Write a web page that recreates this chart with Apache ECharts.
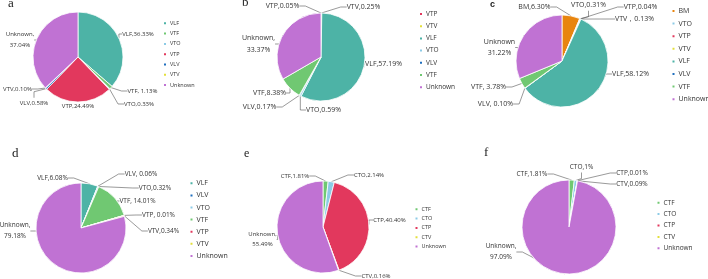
<!DOCTYPE html>
<html>
<head>
<meta charset="utf-8">
<script src="https://cdn.jsdelivr.net/npm/echarts@6/dist/echarts.min.js"></script>
<style>
  html, body { margin: 0; padding: 0; background: #fff; }
  #chart { width: 708px; height: 279px; }
</style>
</head>
<body>
<div id="chart"></div>
<script>
// 数据：六个饼图 a-f
const namesA = ['VLF', 'VTF', 'VTO', 'VTP', 'VLV', 'VTV', 'Unknown'];
const valuesA = [36.33, 1.13, 0.33, 24.49, 0.58, 0.10, 37.04];
const labelsA = ['VLF,36.33%', 'VTF, 1.13%', 'VTO,0.33%', 'VTP,24.49%', 'VLV,0.58%', 'VTV,0.10%', 'Unknown,\n37.04%'];

const namesB = ['VTP', 'VTV', 'VLF', 'VTO', 'VLV', 'VTF', 'Unknown'];
const valuesB = [0.05, 0.25, 57.19, 0.59, 0.17, 8.38, 33.37];
const labelsB = ['VTP,0.05%', 'VTV,0.25%', 'VLF,57.19%', 'VTO,0.59%', 'VLV,0.17%', 'VTF,8.38%', 'Unknown,\n33.37%'];

const namesC = ['BM', 'VTO', 'VTP', 'VTV', 'VLF', 'VLV', 'VTF', 'Unknown'];
const valuesC = [6.30, 0.31, 0.04, 0.13, 58.12, 0.10, 3.78, 31.22];
const labelsC = ['BM,6.30%', 'VTO,0.31%', 'VTP,0.04%', 'VTV，0.13%', 'VLF,58.12%', 'VLV, 0.10%', 'VTF, 3.78%', 'Unknown\n31.22%'];

const namesD = ['VLF', 'VLV', 'VTO', 'VTF', 'VTP', 'VTV', 'Unknown'];
const valuesD = [6.08, 0.06, 0.32, 14.01, 0.01, 0.34, 79.18];
const labelsD = ['VLF,6.08%', 'VLV, 0.06%', 'VTO,0.32%', 'VTF, 14.01%', 'VTP, 0.01%', 'VTV,0.34%', 'Unknown,\n79.18%'];

const namesE = ['CTF', 'CTO', 'CTP', 'CTV', 'Unknown'];
const valuesE = [1.81, 2.14, 40.40, 0.16, 55.49];
const labelsE = ['CTF,1.81%', 'CTO,2.14%', 'CTP,40.40%', 'CTV,0.16%', 'Unknown,\n55.49%'];

const namesF = ['CTF', 'CTO', 'CTP', 'CTV', 'Unknown'];
const valuesF = [1.81, 1, 0.01, 0.09, 97.09];
const labelsF = ['CTF,1.81%', 'CTO,1%', 'CTP,0.01%', 'CTV,0.09%', 'Unknown,\n97.09%'];

const colors = {
  VLF: '#4db3a6', VTF: '#70c872', VTO: '#8ccbe6', VTP: '#e2385d', VLV: '#1f6fbe',
  VTV: '#e3df3a', Unknown: '#c072d3', BM: '#e8850f',
  CTF: '#70c872', CTO: '#8ccbe6', CTP: '#e2385d', CTV: '#e3df3a'
};

// 版式：饼图位置、图例位置、标签中心点
const panels = [
  { tag: 'a', names: namesA, values: valuesA, labels: labelsA,
    center: [78, 57], r: 45, font: 6,
    legend: { left: 162, top: 19.8, font: 5.5, lh: 7, gap: 3.3 },
    title: { left: 8, top: -3, font: 'serif', size: 13, weight: 'normal' },
    pos: [[138, 34], [142.5, 91], [139, 104], [78, 106], [34, 103], [17.5, 89], [20, 40]] },
  { tag: 'b', names: namesB, values: valuesB, labels: labelsB,
    center: [321, 57], r: 44, font: 7,
    legend: { left: 418, top: 10, font: 6.5, lh: 8, gap: 4.2 },
    title: { left: 242, top: -4, font: 'serif', size: 13, weight: 'normal' },
    pos: [[282.5, 6], [363.5, 7], [383.5, 64], [323.5, 110], [259.5, 107], [269.5, 93], [258.5, 44]] },
  { tag: 'c', names: namesC, values: valuesC, labels: labelsC,
    center: [562, 61], r: 46, font: 7,
    legend: { left: 670.5, top: 7, font: 7, lh: 8, gap: 4.6 },
    title: { left: 490, top: 0, font: 'sans-serif', size: 9, weight: 'bold' },
    pos: [[534.5, 7], [588.5, 5], [640.5, 7], [634.5, 19], [630.5, 74], [495.5, 104], [488.5, 87], [499.5, 47.5]] },
  { tag: 'd', names: namesD, values: valuesD, labels: labelsD,
    center: [81, 228], r: 45, font: 6.5,
    legend: { left: 188.5, top: 179.3, font: 7, lh: 8, gap: 4.1 },
    title: { left: 12, top: 147, font: 'serif', size: 13, weight: 'normal' },
    pos: [[52.5, 178], [141, 174], [155, 188], [137.5, 201], [158.5, 215], [163.5, 231], [15, 231]] },
  { tag: 'e', names: namesE, values: valuesE, labels: labelsE,
    center: [323, 227], r: 46, font: 6,
    legend: { left: 413.5, top: 205.8, font: 5.5, lh: 7, gap: 2.3 },
    title: { left: 244, top: 148, font: 'serif', size: 12, weight: 'normal' },
    pos: [[295, 176], [369, 175], [389.5, 220], [376, 276], [262.5, 239.5]] },
  { tag: 'f', names: namesF, values: valuesF, labels: labelsF,
    center: [569, 227], r: 47, font: 6.5,
    legend: { left: 655.5, top: 198.7, font: 6.5, lh: 8, gap: 3.4 },
    title: { left: 484, top: 146, font: 'serif', size: 13, weight: 'normal' },
    pos: [[532, 174], [581.5, 167], [632, 173], [632, 184], [501, 252]] }
];

const myChart = echarts.init(document.getElementById('chart'), null, { renderer: 'canvas' });

const option = {
  animation: false,
  title: panels.map(p => ({
    text: p.tag, left: p.title.left, top: p.title.top, padding: 0,
    textStyle: { fontFamily: p.title.font, fontSize: p.title.size, fontWeight: p.title.weight, color: '#222' }
  })),
  legend: panels.map(p => ({
    data: p.names, orient: 'vertical', left: p.legend.left, top: p.legend.top, padding: 0,
    icon: 'rect', itemWidth: 4, itemHeight: 4, itemGap: p.legend.gap,
    textStyle: { fontFamily: 'Open Sans', fontSize: p.legend.font, lineHeight: p.legend.lh, color: '#333', padding: [0, 0, 0, -2] }
  })),
  series: panels.map(p => ({
    type: 'pie',
    center: p.center,
    radius: p.r,
    startAngle: 90,
    avoidLabelOverlap: false,
    itemStyle: { borderColor: '#fff', borderWidth: 0.8 },
    label: {
      show: true, position: 'outside', fontFamily: 'Open Sans', fontSize: p.font,
      color: '#333', lineHeight: p.font + 4.5,
      formatter: params => p.labels[params.dataIndex]
    },
    labelLine: { show: true, length: 4, length2: 6, lineStyle: { color: '#555', width: 0.6 } },
    labelLayout: params => ({
      x: p.pos[params.dataIndex][0], y: p.pos[params.dataIndex][1],
      align: 'center', verticalAlign: 'middle'
    }),
    emphasis: { disabled: true },
    data: p.names.map((n, i) => ({ name: n, value: p.values[i], itemStyle: { color: colors[n] } }))
  }))
};

myChart.setOption(option);
</script>
</body>
</html>
